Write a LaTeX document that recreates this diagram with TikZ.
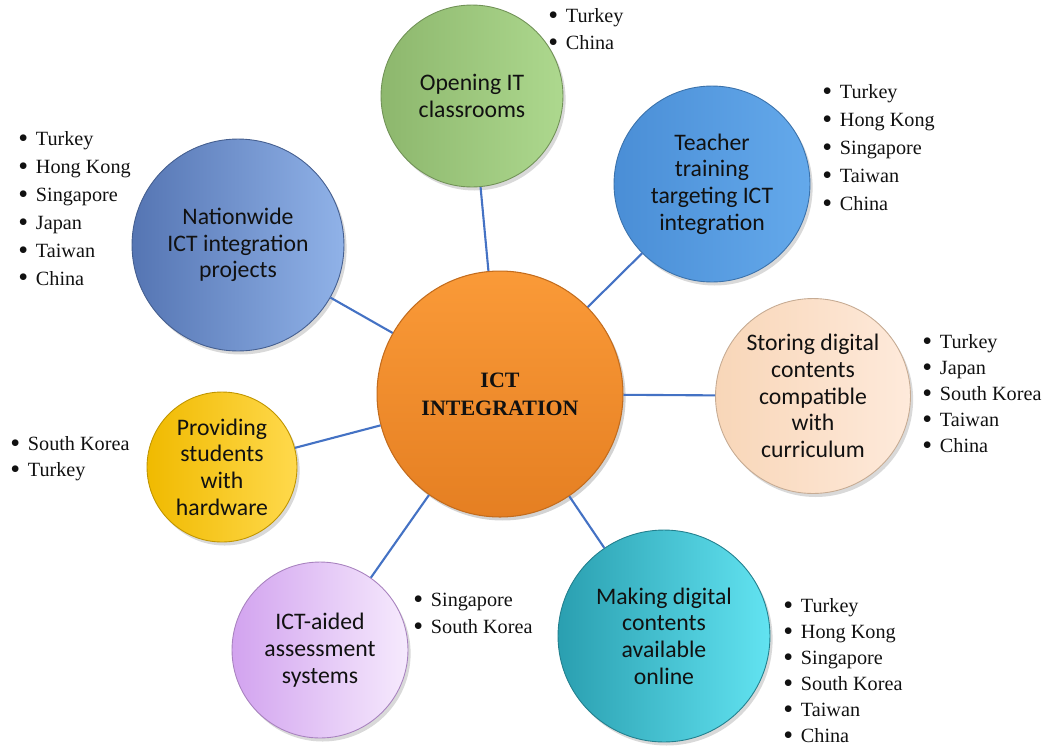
\documentclass[tikz,border=0pt]{standalone}
\usepackage{fontspec}
\setmainfont{Liberation Serif}
\newfontfamily\bodyfont{Carlito}
\usetikzlibrary{positioning, shadows}
\definecolor{hubTop}{HTML}{FA9A38}
\definecolor{hubBottom}{HTML}{E57F22}
\definecolor{openLeft}{HTML}{8DB76D}
\definecolor{openRight}{HTML}{ADD88E}
\definecolor{teachLeft}{HTML}{4A8ED6}
\definecolor{teachRight}{HTML}{64A9EB}
\definecolor{storeLeft}{HTML}{F8D6B8}
\definecolor{storeRight}{HTML}{FEEADB}
\definecolor{nationLeft}{HTML}{5575B3}
\definecolor{nationRight}{HTML}{90B2E8}
\definecolor{provLeft}{HTML}{F0BA00}
\definecolor{provRight}{HTML}{FFD94C}
\definecolor{assessLeft}{HTML}{D2A3EF}
\definecolor{assessRight}{HTML}{F6EAFD}
\definecolor{onlineLeft}{HTML}{2A9FB0}
\definecolor{onlineRight}{HTML}{62E3F1}
\definecolor{linkColor}{HTML}{4472C4}
\definecolor{textMain}{HTML}{111111}
\tikzset{
  hub/.style={
    circle, top color=hubTop, bottom color=hubBottom, draw=hubBottom!85!black,
    line width=0.6pt, inner sep=0pt, align=center, text=textMain,
    font=\fontsize{12.5}{16}\selectfont\bfseries,
    drop shadow={opacity=0.35, shadow xshift=1.5pt, shadow yshift=-2pt},
  },
  topic/.style={
    circle, inner sep=0pt, align=center, text=textMain, line width=0.5pt,
    font=\bodyfont\fontsize{13.5}{15.2}\selectfont,
    drop shadow={opacity=0.3, shadow xshift=1.5pt, shadow yshift=-2pt},
  },
  countries/.style={
    anchor=north west, inner sep=0pt, align=left, text=textMain,
    font=\fontsize{11.5}{#1}\selectfont,
  },
  countries/.default=15.9,
  link/.style={line width=1.2pt, color=linkColor},
}
\newcommand{\cty}[1]{\makebox[10pt][l]{\raisebox{-1.1pt}{\fontsize{16}{16}\selectfont\textbullet}}#1}

\begin{document}
\begin{tikzpicture}[x=0.02cm, y=-0.02cm]
  \useasboundingbox (0,0) rectangle (1055,748);

  % === Hub and the seven topics ===
  \node[hub, minimum size=4.92cm] (hub) at (500,394) {ICT\\INTEGRATION};
  \node[topic, minimum size=3.64cm, left color=openLeft, right color=openRight,
    draw=openLeft!80!black] (open) at (472,96) {Opening IT\\classrooms};
  \node[topic, minimum size=3.92cm, left color=teachLeft, right color=teachRight,
    draw=teachLeft!80!black] (teach) at (712,184) {Teacher\\training\\targeting ICT\\integration};
  \node[topic, minimum size=3.9cm, left color=storeLeft, right color=storeRight,
    draw=storeLeft!80!black] (store) at (813,396) {Storing digital\\contents\\compatible\\with\\curriculum};
  \node[topic, minimum size=4.24cm, left color=nationLeft, right color=nationRight,
    draw=nationLeft!80!black] (nation) at (238,245) {Nationwide\\ICT integration\\projects};
  \node[topic, minimum size=3.0cm, left color=provLeft, right color=provRight,
    draw=provLeft!80!black] (prov) at (222,467) {Providing\\students\\with\\hardware};
  \node[topic, minimum size=3.52cm, left color=assessLeft, right color=assessRight,
    draw=assessLeft!80!black] (assess) at (320,650) {ICT-aided\\assessment\\systems};
  \node[topic, minimum size=4.24cm, left color=onlineLeft, right color=onlineRight,
    draw=onlineLeft!80!black] (online) at (664,636) {Making digital\\contents\\available\\online};

  % === Links from the hub ===
  \foreach \t in {open, teach, store, nation, prov, assess, online}
    \draw[link] (hub) -- (\t);

  % === Country lists ===
  \node[countries=15.3] (openList) at (548,8) {\cty{Turkey}\\\cty{China}};
  \node[countries] (teachList) at (822,84) {\cty{Turkey}\\\cty{Hong Kong}\\\cty{Singapore}\\\cty{Taiwan}\\\cty{China}};
  \node[countries=14.8] (storeList) at (922,334) {\cty{Turkey}\\\cty{Japan}\\\cty{South Korea}\\\cty{Taiwan}\\\cty{China}};
  \node[countries] (nationList) at (18,131) {\cty{Turkey}\\\cty{Hong Kong}\\\cty{Singapore}\\\cty{Japan}\\\cty{Taiwan}\\\cty{China}};
  \node[countries=14.8] (provList) at (10,436) {\cty{South Korea}\\\cty{Turkey}};
  \node[countries=15.3] (assessList) at (413,593) {\cty{Singapore}\\\cty{South Korea}};
  \node[countries=14.8] (onlineList) at (783,598) {\cty{Turkey}\\\cty{Hong Kong}\\\cty{Singapore}\\\cty{South Korea}\\\cty{Taiwan}\\\cty{China}};

\end{tikzpicture}
\end{document}
